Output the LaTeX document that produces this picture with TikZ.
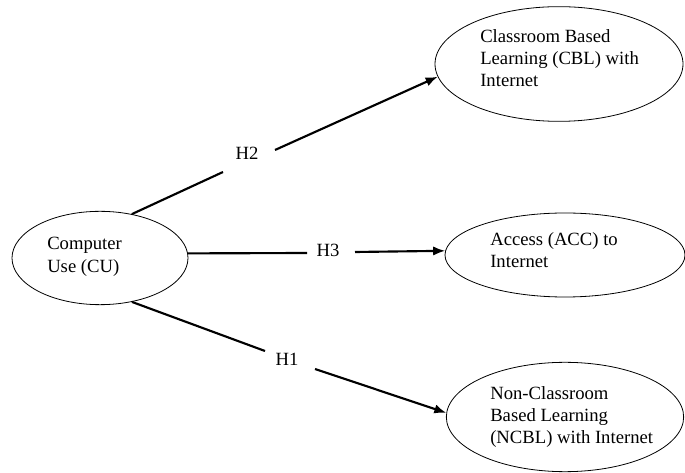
\documentclass[tikz,border=0pt]{standalone}
\usepackage{fontspec}
\setmainfont{Liberation Serif}
\usetikzlibrary{shapes.geometric,arrows.meta}
\begin{document}
\begin{tikzpicture}[x=0.75pt,y=-0.75pt,
  oval/.style={draw,ellipse,line width=0.6pt,inner sep=0pt},
  txt/.style={inner sep=0pt,anchor=base west,align=left,font=\fontsize{14}{16.8}\selectfont},
  hlab/.style={inner sep=0pt,anchor=base,font=\fontsize{14}{17}\selectfont},
  link/.style={line width=1.6pt},
  arr/.style={line width=1.6pt,-{Latex[length=9pt,width=7pt]}}]
\useasboundingbox (0,0) rectangle (685,473);
% ellipses
\node[oval,minimum width=132pt,minimum height=70pt] (cu) at (100,258) {};
\node[oval,minimum width=186pt,minimum height=86pt] (cbl) at (559,64) {};
\node[oval,minimum width=180pt,minimum height=63pt] (acc) at (565,255) {};
\node[oval,minimum width=178pt,minimum height=82pt] (ncbl) at (565,417) {};
% texts (anchored at the baseline of the last line)
\node[txt,font=\fontsize{14}{17.5}\selectfont] (tcu) at (47,273) {Computer\\Use (CU)};
\node[txt] (tcbl) at (480,87) {Classroom Based\\Learning (CBL) with\\Internet};
\node[txt] (tacc) at (490,268) {Access (ACC) to\\Internet};
\node[txt] (tncbl) at (490,444) {Non-Classroom\\Based Learning\\(NCBL) with Internet};
% labels
\node[hlab] (h2) at (247,160) {H2};
\node[hlab] (h3) at (328,257) {H3};
\node[hlab] (h1) at (287,366) {H1};
% gap coordinates
\coordinate (g2a) at (223,172);
\coordinate (g2b) at (275,150);
\coordinate (g3a) at (307,253);
\coordinate (g3b) at (355,252);
\coordinate (g1a) at (265,351);
\coordinate (g1b) at (315,369);
% connectors
\draw[link] (cu.54) -- (g2a);
\draw[arr] (g2b) -- (cbl.186);
\draw[link] (cu.3) -- (g3a);
\draw[arr] (g3b) -- (acc.178);
\draw[link] (cu.-54) -- (g1a);
\draw[arr] (g1b) -- (ncbl.178);
\end{tikzpicture}
\end{document}
